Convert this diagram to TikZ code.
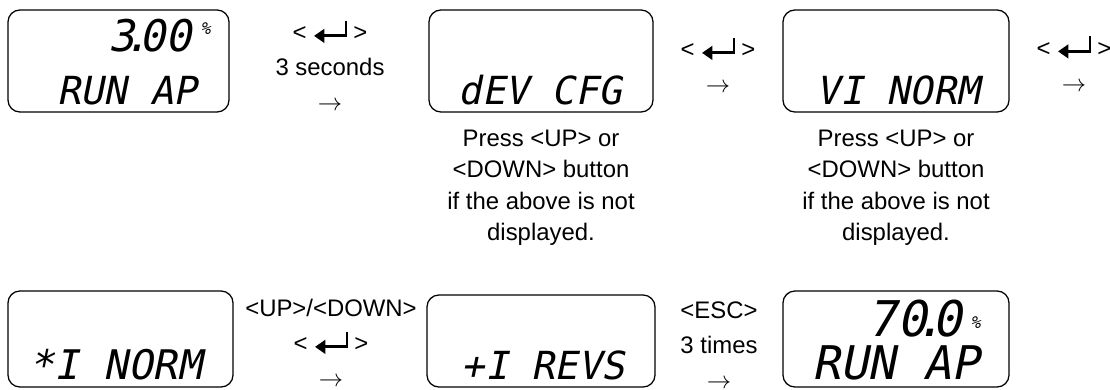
\documentclass[tikz,border=0pt]{standalone}
\usepackage{fontspec}
\setmainfont{Liberation Sans}
\newfontfamily\lcdfont{DejaVu Sans Mono}[FakeSlant=0.2]
\usetikzlibrary{arrows.meta}

\newcommand{\lcdsize}[1]{\lcdfont\fontsize{#1}{#1}\selectfont}
\newcommand{\enterkey}{\tikz[baseline=0pt]\draw[line width=2pt,-{Triangle[length=0.26cm,width=0.34cm]}] (0.8cm,0.5cm) -- (0.8cm,0.12cm) -- (0cm,0.12cm);}
\newcommand{\enterbtn}{<\hspace{0.25em}\enterkey\hspace{0.25em}>}

\tikzset{
  lcdbox/.style={draw, line width=0.9pt, rounded corners=0.3cm, inner sep=0},
  lcdtext/.style={inner sep=0, font=\lcdsize{27.5}},
  pcttext/.style={inner sep=0, font=\lcdsize{12}, anchor=base west},
  keylabel/.style={align=center, inner sep=0, font=\fontsize{17}{24.9}\selectfont},
  note/.style={align=center, inner sep=0, font=\fontsize{17}{22.4}\selectfont}
}

\begin{document}
\begin{tikzpicture}[x=0.025cm, y=-0.025cm]
  \useasboundingbox (0,0) rectangle (1110,389);

  % first row
  \node[lcdbox, minimum width=5.525cm, minimum height=2.55cm] (disp1) at (118.5,61) {};
  \node[lcdtext, font=\lcdsize{31}, anchor=base east] (val1) at (192,51) {3\kern-0.25em.\kern-0.25em00};
  \node[pcttext, xshift=0.2cm, yshift=0.4cm] (pct1) at (val1.base east) {\%};
  \node[lcdtext, anchor=base east] (run1) at (197,104) {RUN AP};

  \node[keylabel] (key1) at (330,65) {\enterbtn\\3 seconds\\$\rightarrow$};

  \node[lcdbox, minimum width=5.6cm, minimum height=2.55cm] (disp2) at (541,61) {};
  \node[lcdtext, anchor=base east] (dev2) at (622,104) {dEV CFG};
  \node[note] (note2) at (541,188) {Press <UP> or\\<DOWN> button\\if the above is not\\displayed.};

  \node[keylabel] (key2) at (718,64.5) {\enterbtn\\$\rightarrow$};

  \node[lcdbox, minimum width=5.65cm, minimum height=2.55cm] (disp3) at (896,61) {};
  \node[lcdtext, anchor=base east] (vi3) at (980,104) {VI NORM};
  \node[note] (note3) at (896,188) {Press <UP> or\\<DOWN> button\\if the above is not\\displayed.};

  \node[keylabel] (key3) at (1074,63) {\enterbtn\\$\rightarrow$};

  % second row
  \node[lcdbox, minimum width=5.625cm, minimum height=2.4cm] (disp4) at (120.5,339) {};
  \node[lcdtext, font=\lcdsize{29}, anchor=base east] (xi4) at (202,379) {*I NORM};

  \node[keylabel] (key4) at (331,343) {<UP>/<DOWN>\\\enterbtn\\$\rightarrow$};

  \node[lcdbox, minimum width=5.7cm, minimum height=2.3cm] (disp5) at (541,341) {};
  \node[lcdtext, anchor=base east] (pi5) at (625,379) {+I REVS};

  \node[keylabel] (key5) at (719,345) {<ESC>\\3 times\\$\rightarrow$};

  \node[lcdbox, minimum width=5.65cm, minimum height=2.4cm] (disp6) at (896,339) {};
  \node[lcdtext, font=\lcdsize{35}, anchor=base east] (val6) at (962,336) {70\kern-0.25em.\kern-0.25em0};
  \node[pcttext, xshift=0.2cm, yshift=0.2cm] (pct6) at (val6.base east) {\%};
  \node[lcdtext, font=\lcdsize{33}, anchor=base east] (run6) at (980,379) {RUN AP};
\end{tikzpicture}
\end{document}
